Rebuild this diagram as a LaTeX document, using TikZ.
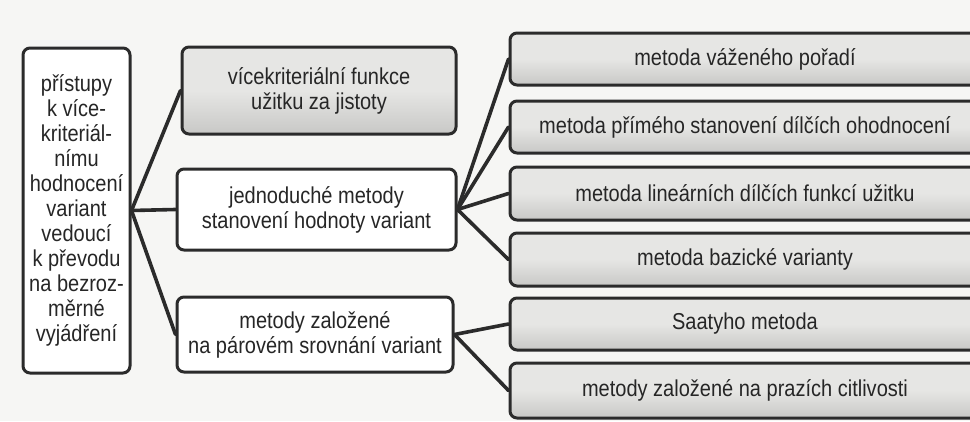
\documentclass[tikz,border=0pt]{standalone}
\usepackage{fontspec}
\setmainfont[FakeStretch=0.87]{Liberation Sans}
\definecolor{bg}{HTML}{F6F6F4}
\definecolor{ink}{HTML}{2B2B2B}
\definecolor{txt}{HTML}{262626}
\definecolor{gtop}{HTML}{E6E6E4}
\definecolor{gbot}{HTML}{C8C8C6}
\tikzset{
  box/.style={draw=ink, line width=3pt, rounded corners=7pt, align=center,
    text=txt, font=\fontsize{23}{25}\selectfont, inner sep=0pt},
  wbox/.style={box, fill=white},
  gbox/.style={box, top color=gtop, bottom color=gbot, middle color=gtop},
  link/.style={draw=ink, line width=3.6pt, line cap=round}
}
\begin{document}
\begin{tikzpicture}[x=1pt,y=-1pt]
\fill[bg] (0,0) rectangle (970,421);
\useasboundingbox (0,0) rectangle (970,421);
\node[wbox, minimum width=107pt, minimum height=325pt] (L) at (76.5,210.5)
  {přístupy\\k více-\\kriteriál-\\nímu\\hodnocení\\variant\\vedoucí\\k převodu\\na bezroz-\\měrné\\vyjádření};
\node[gbox, minimum width=274pt, minimum height=87pt] (G) at (319,90.5)
  {vícekriteriální funkce\\užitku za jistoty};
\node[wbox, minimum width=279pt, minimum height=81pt] (J) at (316.5,209.5)
  {jednoduché metody\\stanovení hodnoty variant};
\node[wbox, minimum width=276pt, minimum height=75pt] (M) at (315,334.5)
  {metody založené\\na párovém srovnání variant};
\node[gbox, minimum width=470pt, minimum height=52pt] (R1) at (745,59) {metoda váženého pořadí};
\node[gbox, minimum width=470pt, minimum height=52pt] (R2) at (745,127) {metoda přímého stanovení dílčích ohodnocení};
\node[gbox, minimum width=470pt, minimum height=53pt] (R3) at (745,193.5) {metoda lineárních dílčích funkcí užitku};
\node[gbox, minimum width=470pt, minimum height=53pt] (R4) at (745,259.5) {metoda bazické varianty};
\node[gbox, minimum width=470pt, minimum height=52pt] (R5) at (745,324) {Saatyho metoda};
\node[gbox, minimum width=470pt, minimum height=55pt] (R6) at (745,390.5) {metody založené na prazích citlivosti};
\draw[link] (L.east) -- (G.west);
\draw[link] (L.east) -- (J.west);
\draw[link] (L.east) -- (M.west);
\draw[link] (J.east) -- (R1.west);
\draw[link] (J.east) -- (R2.west);
\draw[link] (J.east) -- (R3.west);
\draw[link] (J.east) -- (R4.west);
\draw[link] (M.east) -- (R5.west);
\draw[link] (M.east) -- (R6.west);
\end{tikzpicture}
\end{document}
